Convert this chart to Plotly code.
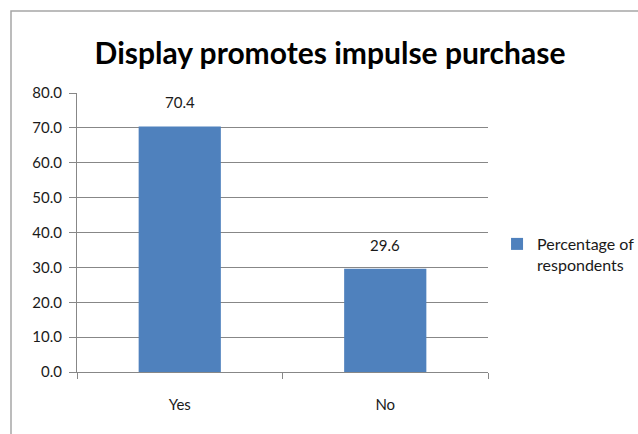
import plotly.graph_objects as go

categories = ["Yes", "No"]
values = [70.4, 29.6]
series_name = "Percentage of<br>respondents"
title_text = "Display promotes impulse purchase"

BAR = "#4F81BD"
GRID = "#878787"
FONT = "Lato"
TXT = "#1a1a1a"

fig = go.Figure()
fig.add_trace(go.Bar(
    x=categories, y=values, name=series_name,
    marker=dict(color=BAR, line=dict(width=0)),
    width=0.4, showlegend=True,
))

for c, v in zip(categories, values):
    fig.add_annotation(x=c, y=v, text=f"{v:.1f}", showarrow=False,
                       xanchor="center", yanchor="bottom", yshift=13,
                       font=dict(family=FONT, size=15, color=TXT))

fig.update_layout(
    width=638, height=434,
    margin=dict(l=77, r=150, t=93, b=62, autoexpand=False),
    paper_bgcolor="white", plot_bgcolor="white",
    font=dict(family=FONT, size=15, color=TXT),
    title=dict(text=f"<b>{title_text}</b>", x=330/638, xanchor="center",
               y=1 - 53/434, yanchor="middle",
               font=dict(family=FONT, size=30, color="black")),
    showlegend=True,
    legend=dict(x=1.022, y=(372-227)/279, xanchor="left", yanchor="top",
                valign="top", font=dict(family=FONT, size=16, color=TXT),
                bgcolor="rgba(0,0,0,0)", itemwidth=30),
    shapes=[dict(type="rect", xref="paper", yref="paper",
                 x0=(11-77)/411, x1=2.0, y0=-1.0, y1=(372-11)/279,
                 line=dict(color="#A6A6A6", width=1.5), layer="below")],
)

fig.update_yaxes(range=[0, 80], dtick=10, tickformat=".1f",
                 showgrid=True, gridcolor=GRID, gridwidth=1,
                 showline=True, linecolor=GRID, linewidth=1,
                 ticks="outside", ticklen=7, tickcolor=GRID,
                 ticklabelstandoff=4, zeroline=False,
                 tickfont=dict(family=FONT, size=15, color=TXT))
fig.update_xaxes(showline=True, linecolor=GRID, linewidth=1,
                 ticks="outside", ticklen=6, tickcolor=GRID,
                 tickson="boundaries", ticklabelstandoff=19,
                 showgrid=False,
                 tickfont=dict(family=FONT, size=15, color=TXT))

fig.write_html("out.html")
